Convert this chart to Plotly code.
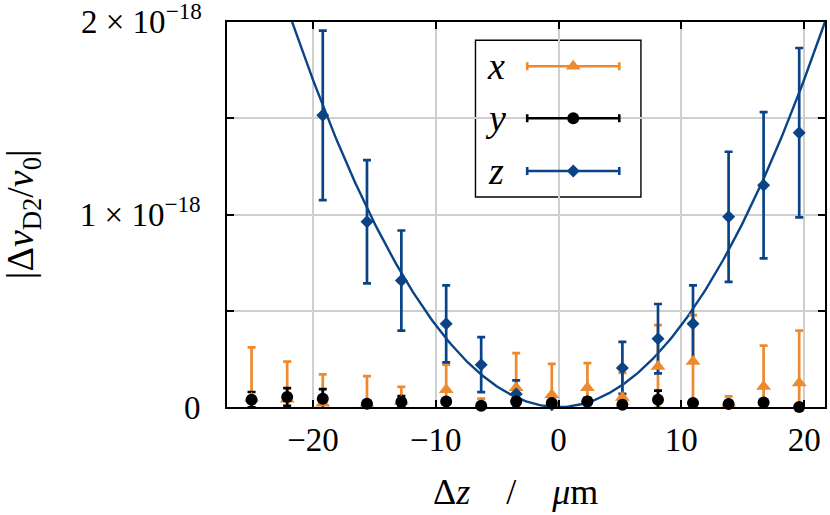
import numpy as np
import plotly.graph_objects as go

# positions along z (µm) and fractional shifts in units of 1e-18
dz = [-25.0, -22.1, -19.2, -15.6, -12.8, -9.15, -6.3, -3.45,
      -0.55, 2.35, 5.2, 8.1, 10.95, 13.85, 16.7, 19.6]

shift_x = [0.045, 0.04, 0.02, 0.02, 0.03, 0.09, 0.01, 0.10,
           0.064, 0.10, 0.05, 0.21, 0.237, 0.02, 0.107, 0.125]
err_x = [0.265, 0.196, 0.15, 0.14, 0.075, 0.13, 0.033, 0.18,
         0.16, 0.128, 0.127, 0.215, 0.24, 0.035, 0.212, 0.272]

shift_y = [0.038, 0.052, 0.043, 0.017, 0.026, 0.029, 0.007, 0.029,
           0.021, 0.029, 0.012, 0.038, 0.021, 0.016, 0.024, 0.0]
err_y = [0.04, 0.046, 0.05, 0.01, 0.03, 0.01, 0.01, 0.01,
         0.01, 0.01, 0.01, 0.047, 0.01, 0.01, 0.01, 0.01]

dz_z = dz[2:]
shift_z = [1.515, 0.962, 0.657, 0.432, 0.22, 0.068,
           0.012, 0.029, 0.203, 0.355, 0.432, 0.988, 1.152, 1.425]
err_z = [0.44, 0.32, 0.26, 0.2, 0.143, 0.07,
         0.015, 0.02, 0.135, 0.18, 0.2, 0.338, 0.38, 0.44]

# quadratic fit to the z data: a * dz^2
FIT_A = 4.25e-3

y_ticks = [0, 0.5, 1, 1.5, 2]
y_text = ["0", "", "1 × 10<sup>−18</sup>", "", ""]
y_top_label = "2 × 10<sup>−18</sup>"
x_ticks = [-20, -10, 0, 10, 20]
x_text = ["−20", "−10", "0", "10", "20"]

ORANGE = "#EC8A2D"
BLACK = "#000000"
BLUE = "#0A4487"
FONT = "Liberation Serif"

series = [
    ("x", dz, shift_x, err_x, ORANGE, "triangle-up", 13),
    ("y", dz, shift_y, err_y, BLACK, "circle", 12),
    ("z", dz_z, shift_z, err_z, BLUE, "diamond", 10),
]

fig = go.Figure()

fit_x = np.linspace(-27, 21.7, 300)
fig.add_trace(go.Scatter(x=fit_x, y=FIT_A * fit_x**2, mode="lines",
                         line=dict(color=BLUE, width=2.4), hoverinfo="skip"))

# error bars first (clipped), then markers (not clipped)
for name, xs, ys, es, col, sym, size in series:
    fig.add_trace(go.Scatter(
        x=xs, y=ys, mode="markers", marker=dict(size=1, opacity=0),
        error_y=dict(type="data", array=es, color=col, thickness=2.7, width=4),
        cliponaxis=True, hoverinfo="skip",
    ))
for name, xs, ys, es, col, sym, size in [series[0], series[2], series[1]]:
    fig.add_trace(go.Scatter(
        x=xs, y=ys, mode="markers", name=name,
        marker=dict(symbol=sym, size=size, color=col, line=dict(width=0)),
        cliponaxis=False,
    ))

# legend drawn on an overlay axis pair, samples styled as horizontal error bars
box = dict(x0=0.4155, x1=0.6922, y0=0.5454, y1=0.9525)
rows = [0.885, 0.750, 0.613]
fig.add_shape(type="rect", xref="paper", yref="paper", **box,
              line=dict(color="black", width=1.4), fillcolor="white",
              layer="between")
for (name, xs, ys, es, col, sym, size), ry in zip(series, rows):
    fig.add_annotation(x=0.449, y=ry, xref="paper", yref="paper",
                       xanchor="center", yanchor="middle",
                       text=f"<i>{name}</i>", showarrow=False,
                       font=dict(family=FONT, size=38, color="black"))
    fig.add_trace(go.Scatter(
        x=[0.579], y=[ry], xaxis="x2", yaxis="y2", mode="markers",
        marker=dict(symbol=sym, size=size, color=col),
        error_x=dict(type="constant", value=0.077, color=col, thickness=2.6, width=4),
        hoverinfo="skip",
    ))

# top y tick label placed by hand so it is not pushed below the frame
fig.add_annotation(x=-0.038, y=1, xref="paper", yref="paper",
                   xanchor="right", yanchor="middle", yshift=3,
                   text=y_top_label, showarrow=False,
                   font=dict(family=FONT, size=33, color="black"))

fig.add_annotation(x=0.482, y=-0.22, xref="paper", yref="paper",
                   xanchor="center", yanchor="middle",
                   text="Δ<i>z</i>\u2003/\u2003<i>μ</i>m", showarrow=False,
                   font=dict(family=FONT, size=36, color="black"))
fig.add_annotation(x=-0.3417, y=0.5, xref="paper", yref="paper", textangle=-90,
                   xanchor="center", yanchor="middle",
                   text="|Δ<i>ν</i><sub>D2</sub>/<i>ν</i><sub>0</sub>|",
                   showarrow=False, font=dict(family=FONT, size=38, color="black"))

axis_common = dict(showline=True, linecolor="black", linewidth=1.6, mirror="allticks",
                   ticks="inside", ticklen=7, tickwidth=1.5, tickcolor="black",
                   showgrid=True, gridcolor="#cfcfcf", gridwidth=1.5,
                   zeroline=False, ticklabeloverflow="allow",
                   tickfont=dict(family=FONT, size=33, color="black"))

fig.update_layout(
    width=830, height=515,
    margin=dict(l=227, r=3, t=22, b=108),
    plot_bgcolor="white", paper_bgcolor="white",
    showlegend=False,
    xaxis=dict(range=[-27.0, 21.7], tickvals=x_ticks, ticktext=x_text,
               ticklabelstandoff=3, **axis_common),
    yaxis=dict(range=[0, 2], tickvals=y_ticks, ticktext=y_text,
               ticklabelstandoff=18, **axis_common),
    xaxis2=dict(range=[0, 1], overlaying="x", visible=False),
    yaxis2=dict(range=[0, 1], overlaying="y", visible=False),
)

fig.write_html("out.html", config={"displayModeBar": False},
               post_script="document.body.style.margin='0';")
